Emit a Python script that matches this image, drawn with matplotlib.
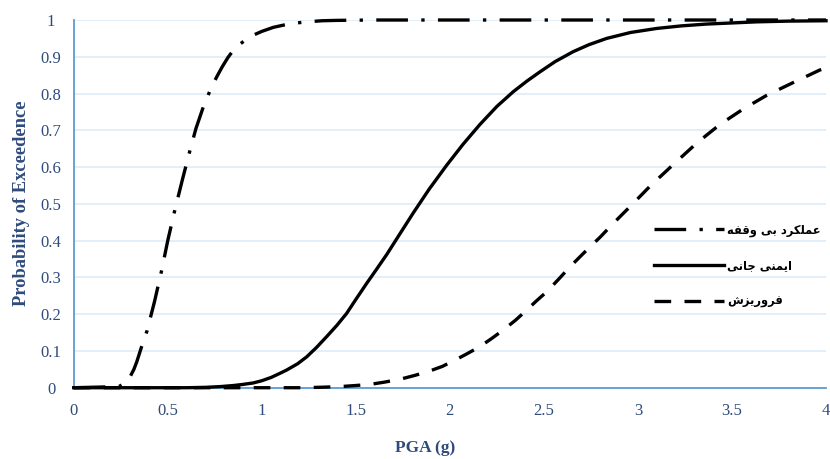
import matplotlib.pyplot as plt

# Curvas de fragilidad: probabilidad de excedencia vs PGA (g)
pga_io = [0.0, 0.24, 0.28, 0.30, 0.32, 0.335, 0.36, 0.39, 0.43, 0.468, 0.50, 0.539,
          0.58, 0.618, 0.65, 0.69, 0.728, 0.76, 0.79, 0.82, 0.849, 0.88, 0.925,
          0.96, 1.0, 1.061, 1.15, 1.239, 1.32, 1.4, 1.6, 4.0]
pfe_io = [0.0, 0.003, 0.015, 0.03, 0.05, 0.07, 0.11, 0.155, 0.235, 0.32, 0.40, 0.486,
          0.57, 0.645, 0.705, 0.765, 0.812, 0.845, 0.873, 0.898, 0.918, 0.933, 0.950,
          0.960, 0.969, 0.980, 0.990, 0.995, 0.998, 0.999, 1.0, 1.0]

pga_ls = [0.0, 0.6, 0.7, 0.778, 0.85, 0.9, 0.955, 1.0, 1.05, 1.1, 1.132, 1.19, 1.239,
          1.29, 1.345, 1.40, 1.451, 1.50, 1.558, 1.61, 1.664, 1.73, 1.805, 1.89,
          1.983, 2.07, 2.160, 2.25, 2.337, 2.41, 2.479, 2.56, 2.656, 2.74, 2.834,
          2.96, 3.099, 3.23, 3.365, 3.5, 3.631, 3.8, 4.0]
pfe_ls = [0.0, 0.0, 0.001, 0.003, 0.006, 0.009, 0.013, 0.019, 0.028, 0.040, 0.048,
          0.065, 0.084, 0.109, 0.139, 0.170, 0.202, 0.240, 0.284, 0.322, 0.362,
          0.415, 0.475, 0.540, 0.605, 0.662, 0.716, 0.765, 0.805, 0.834, 0.859,
          0.887, 0.914, 0.933, 0.950, 0.966, 0.977, 0.984, 0.989, 0.992, 0.995,
          0.997, 0.998]

pga_cp = [0.0, 1.2, 1.3, 1.416, 1.5, 1.575, 1.65, 1.735, 1.81, 1.885, 1.96, 2.027,
          2.09, 2.160, 2.22, 2.284, 2.35, 2.408, 2.46, 2.515, 2.58, 2.639, 2.727,
          2.80, 2.869, 2.957, 3.064, 3.188, 3.312, 3.436, 3.560, 3.684, 3.826,
          3.967, 4.0]
pfe_cp = [0.0, 0.0, 0.001, 0.003, 0.006, 0.009, 0.015, 0.023, 0.033, 0.044, 0.058,
          0.075, 0.092, 0.112, 0.133, 0.157, 0.184, 0.211, 0.236, 0.261, 0.296,
          0.329, 0.374, 0.41, 0.447, 0.492, 0.548, 0.607, 0.665, 0.716, 0.758,
          0.795, 0.830, 0.864, 0.870]

labels = ['عملکرد بی وقفه', 'ایمنی جانی', 'فروریزش']

xticks = [0, 0.5, 1, 1.5, 2, 2.5, 3, 3.5, 4]
xtick_labels = ['0', '0.5', '1', '1.5', '2', '2.5', '3', '3.5', '4']
yticks = [0, 0.1, 0.2, 0.3, 0.4, 0.5, 0.6, 0.7, 0.8, 0.9, 1]
ytick_labels = ['0', '0.1', '0.2', '0.3', '0.4', '0.5', '0.6', '0.7', '0.8', '0.9', '1']

# formas de presentación (aislada, final, inicial, medial); matplotlib no une letras árabes
FORMS = {
    'ع': '\uFEC9\uFECA\uFECB\uFECC', 'م': '\uFEE1\uFEE2\uFEE3\uFEE4',
    'ل': '\uFEDD\uFEDE\uFEDF\uFEE0', 'ک': '\uFB8E\uFB8F\uFB90\uFB91',
    'ب': '\uFE8F\uFE90\uFE91\uFE92', 'ی': '\uFBFC\uFBFD\uFBFE\uFBFF',
    'ق': '\uFED5\uFED6\uFED7\uFED8', 'ف': '\uFED1\uFED2\uFED3\uFED4',
    'ه': '\uFEE9\uFEEA\uFEEB\uFEEC', 'ن': '\uFEE5\uFEE6\uFEE7\uFEE8',
    'ج': '\uFE9D\uFE9E\uFE9F\uFEA0', 'ش': '\uFEB5\uFEB6\uFEB7\uFEB8',
    'ر': '\uFEAD\uFEAE', 'د': '\uFEA9\uFEAA', 'و': '\uFEED\uFEEE',
    'ا': '\uFE8D\uFE8E', 'ز': '\uFEAF\uFEB0',
}


def shape(text):
    words = []
    for word in text.split(' '):
        glyphs = []
        for i, ch in enumerate(word):
            f = FORMS[ch]
            prev = i > 0 and len(FORMS[word[i - 1]]) == 4
            nxt = i < len(word) - 1 and len(f) == 4
            if prev and nxt:
                g = f[3]
            elif prev:
                g = f[1]
            elif nxt:
                g = f[2]
            else:
                g = f[0]
            glyphs.append(g)
        words.append(''.join(reversed(glyphs)))
    return ' '.join(reversed(words))


blue = '#5B9BD5'
text_blue = '#2F4B7C'

fig = plt.figure(figsize=(8.3, 4.59), dpi=100)
ax = fig.add_axes([0.0888, 0.1553, 0.9064, 0.8011])

ax.plot(pga_io, pfe_io, color='black', lw=2.4, dashes=(9.5, 4, 1, 4),
        label=shape(labels[0]), clip_on=False, zorder=3)
ax.plot(pga_ls, pfe_ls, color='black', lw=2.4, label=shape(labels[1]),
        clip_on=False, zorder=3)
ax.plot(pga_cp, pfe_cp, color='black', lw=2.4, dashes=(5, 4),
        label=shape(labels[2]), clip_on=False, zorder=3)

ax.set_xlim(0, 4)
ax.set_ylim(0, 1)
ax.set_xticks(xticks)
ax.set_xticklabels(xtick_labels)
ax.set_yticks(yticks)
ax.set_yticklabels(ytick_labels, ha='center')
ax.tick_params(axis='both', length=0, labelsize=12, labelcolor=text_blue,
               labelfontfamily='Liberation Serif')
ax.tick_params(axis='y', pad=16.3)
ax.tick_params(axis='x', pad=11)

ax.grid(axis='y', color='#DDEBF7', lw=1.2)
ax.set_axisbelow(True)
for s in ['top', 'right']:
    ax.spines[s].set_visible(False)
for s in ['left', 'bottom']:
    ax.spines[s].set_color(blue)
    ax.spines[s].set_linewidth(1.3)

ax.set_xlabel('PGA (g)', fontsize=12.5, fontweight='bold', color=text_blue,
              family='Liberation Serif')
ax.set_ylabel('Probability of Exceedence', fontsize=13.3, fontweight='bold',
              color=text_blue, family='Liberation Serif')
ax.xaxis.set_label_coords((425 - 73.7) / 752.3, -(440 - 387.7) / 367.7)
ax.yaxis.set_label_coords(-(73.7 - 30) / 752.3, (387.7 - 203) / 367.7)

leg = ax.legend(loc='upper left', bbox_to_anchor=(0.771, 0.447), frameon=False,
                borderpad=0, borderaxespad=0, handlelength=6.1,
                handletextpad=0.25, labelspacing=1.95,
                prop={'family': 'DejaVu Sans', 'weight': 'bold', 'size': 8.3})

fig.savefig('out.png', dpi=100)
